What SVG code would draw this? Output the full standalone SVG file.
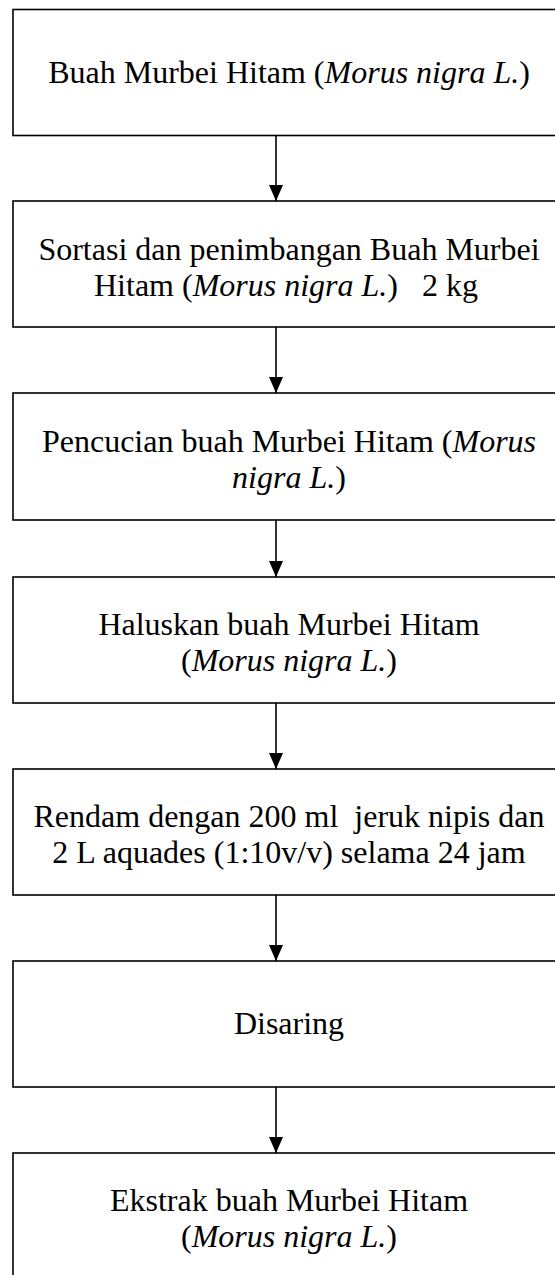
<svg xmlns="http://www.w3.org/2000/svg" width="555" height="1275" viewBox="0 0 555 1275">
<defs>
<style>
.box{fill:#fff;stroke:#000;stroke-width:1.6}
.t{font-family:"Liberation Serif","Times New Roman",serif;font-size:32px;fill:#000;text-anchor:middle}
.i{font-style:italic}
.c{stroke:#000;stroke-width:1.6;fill:none}
</style>
<marker id="ah" markerUnits="userSpaceOnUse" markerWidth="16" markerHeight="14" refX="16" refY="7" orient="auto" viewBox="0 0 16 14">
<path d="M0,0 L16,7 L0,14 z" fill="#000"/>
</marker>
</defs>
<rect width="555" height="1275" fill="#fff"/>
<g id="n1">
<rect class="box" x="13" y="9.5" width="552" height="126"/>
<text class="t" x="289" y="83">Buah Murbei Hitam (<tspan class="i">Morus nigra L.</tspan>)</text>
</g>
<g id="n2">
<rect class="box" x="13" y="201" width="552" height="126"/>
<text class="t" x="289" y="260">Sortasi dan penimbangan Buah Murbei</text>
<text class="t" x="286" y="296" xml:space="preserve">Hitam (<tspan class="i">Morus nigra L.</tspan>)   2 kg</text>
</g>
<g id="n3">
<rect class="box" x="13" y="393" width="552" height="127"/>
<text class="t" x="289" y="452">Pencucian buah Murbei Hitam (<tspan class="i">Morus</tspan></text>
<text class="t" x="289" y="488"><tspan class="i">nigra L.</tspan>)</text>
</g>
<g id="n4">
<rect class="box" x="13" y="577" width="552" height="126"/>
<text class="t" x="289" y="635">Haluskan buah Murbei Hitam</text>
<text class="t" x="289" y="671">(<tspan class="i">Morus nigra L.</tspan>)</text>
</g>
<g id="n5">
<rect class="box" x="13" y="769" width="552" height="126"/>
<text class="t" x="289" y="827" xml:space="preserve">Rendam dengan 200 ml  jeruk nipis dan</text>
<text class="t" x="289" y="863">2 L aquades (1:10v/v) selama 24 jam</text>
</g>
<g id="n6">
<rect class="box" x="13" y="961" width="552" height="126"/>
<text class="t" x="289" y="1034">Disaring</text>
</g>
<g id="n7">
<rect class="box" x="13" y="1153" width="552" height="126"/>
<text class="t" x="289" y="1211">Ekstrak buah Murbei Hitam</text>
<text class="t" x="289" y="1247">(<tspan class="i">Morus nigra L.</tspan>)</text>
</g>
<g id="connectors">
<line class="c" x1="276" y1="136" x2="276" y2="201" marker-end="url(#ah)"/>
<line class="c" x1="276" y1="327" x2="276" y2="393" marker-end="url(#ah)"/>
<line class="c" x1="276" y1="520" x2="276" y2="577" marker-end="url(#ah)"/>
<line class="c" x1="276" y1="703" x2="276" y2="769" marker-end="url(#ah)"/>
<line class="c" x1="276" y1="895" x2="276" y2="961" marker-end="url(#ah)"/>
<line class="c" x1="276" y1="1087" x2="276" y2="1153" marker-end="url(#ah)"/>
</g>
</svg>
